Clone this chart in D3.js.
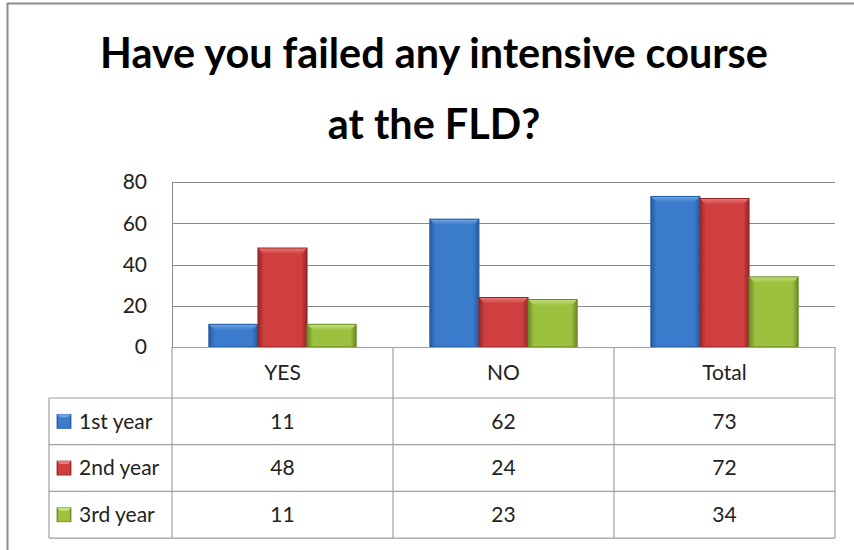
<!DOCTYPE html>
<html>
<head>
<meta charset="utf-8">
<script src="https://cdn.jsdelivr.net/npm/d3@7"></script>
<style>
  body { margin: 0; background: #fff; }
  svg { display: block; font-family: Lato, "Open Sans", sans-serif; }
</style>
</head>
<body>
<svg width="854" height="550"></svg>
<script>
const categories = ['YES', 'NO', 'Total'];
const seriesNames = ['1st year', '2nd year', '3rd year'];
const firstYear = [11, 62, 73];
const secondYear = [48, 24, 72];
const thirdYear = [11, 23, 34];
const yTicks = [0, 20, 40, 60, 80];
const titleLines = ['Have you failed any intensive course', 'at the FLD?'];

const series = [firstYear, secondYear, thirdYear];
const palette = [
  { base: '#3b7bcb', light: '#6fa6e6', dark: '#245a9e' },
  { base: '#cf3f3f', light: '#ea7a78', dark: '#962626' },
  { base: '#9bc13f', light: '#c6e27c', dark: '#6a8a25' }
];

const svg = d3.select('svg');
const plot = { left: 172, right: 835, top: 182, bottom: 347 };
const table = { left: 49, headerBottom: 398, rowH: 46.7 };
const fs = 21;

// outer frame
svg.append('path')
  .attr('d', 'M7.5,552 L7.5,3.5 L858,3.5')
  .attr('fill', 'none')
  .attr('stroke', '#8c8c8c')
  .attr('stroke-width', 2);

// gradients
const defs = svg.append('defs');
palette.forEach((c, i) => {
  const g = defs.append('linearGradient').attr('id', `body-${i}`)
    .attr('x1', 0).attr('x2', 1).attr('y1', 0).attr('y2', 0);
  g.append('stop').attr('offset', '0%').attr('stop-color', c.dark);
  g.append('stop').attr('offset', '12%').attr('stop-color', c.base);
  g.append('stop').attr('offset', '88%').attr('stop-color', c.base);
  g.append('stop').attr('offset', '100%').attr('stop-color', c.dark);
  const t = defs.append('linearGradient').attr('id', `top-${i}`)
    .attr('x1', 0).attr('x2', 0).attr('y1', 0).attr('y2', 1);
  t.append('stop').attr('offset', '0%').attr('stop-color', c.light);
  t.append('stop').attr('offset', '100%').attr('stop-color', c.base);
});

// title
const title = svg.append('g').attr('font-weight', 'bold').attr('fill', '#000');
const titleBase = [68, 139];
titleLines.forEach((line, i) => {
  title.append('text')
    .attr('x', 434)
    .attr('y', titleBase[i])
    .attr('text-anchor', 'middle')
    .attr('font-size', 36)
    .text(line);
});
const w0 = title.select('text').node().getComputedTextLength();
title.selectAll('text').attr('font-size', 36 * 668 / w0);

// scales
const x = d3.scaleBand().domain(categories).range([plot.left, plot.right]);
const inner = d3.scaleBand().domain(d3.range(3)).range([0, x.bandwidth()])
  .paddingOuter(0.75).paddingInner(0);
const y = d3.scaleLinear().domain([0, 80]).range([plot.bottom, plot.top]);

// gridlines
svg.append('g')
  .selectAll('line')
  .data(yTicks)
  .join('line')
  .attr('x1', plot.left).attr('x2', plot.right)
  .attr('y1', d => Math.round(y(d)) + 0.5).attr('y2', d => Math.round(y(d)) + 0.5)
  .attr('stroke', '#8a8a8a');
svg.append('line')
  .attr('x1', plot.left + 0.5).attr('x2', plot.left + 0.5)
  .attr('y1', plot.top).attr('y2', plot.bottom)
  .attr('stroke', '#8a8a8a');

// y labels
svg.append('g')
  .selectAll('text')
  .data(yTicks)
  .join('text')
  .attr('x', 147)
  .attr('y', d => y(d))
  .attr('dy', '0.35em')
  .attr('text-anchor', 'end')
  .attr('font-size', fs)
  .attr('fill', '#222')
  .text(d => d);

// bars
const bevel = 6;
series.forEach((vals, si) => {
  const g = svg.append('g');
  vals.forEach((v, ci) => {
    const x0 = x(categories[ci]) + inner(si);
    const bw = inner.bandwidth();
    const y0 = y(v);
    const h = plot.bottom - y0;
    g.append('rect')
      .attr('x', x0).attr('y', y0).attr('width', bw).attr('height', h)
      .attr('fill', `url(#body-${si})`);
    g.append('path')
      .attr('d', `M${x0},${y0} L${x0 + bw},${y0} L${x0 + bw - bevel},${y0 + bevel} L${x0 + bevel},${y0 + bevel} Z`)
      .attr('fill', `url(#top-${si})`);
    g.append('rect')
      .attr('x', x0).attr('y', y0).attr('width', bw).attr('height', h)
      .attr('fill', 'none')
      .attr('stroke', palette[si].dark).attr('stroke-width', 1);
  });
});

// data table
const tBottom = table.headerBottom + table.rowH * 3;
const grid = svg.append('g').attr('stroke', '#a0a0a0').attr('stroke-width', 1.2).attr('fill', 'none');
grid.append('line').attr('x1', plot.left).attr('x2', plot.right).attr('y1', plot.bottom + 0.5).attr('y2', plot.bottom + 0.5);
d3.range(4).forEach(r => {
  const yy = table.headerBottom + r * table.rowH;
  grid.append('line').attr('x1', table.left).attr('x2', plot.right).attr('y1', yy).attr('y2', yy);
});
grid.append('line').attr('x1', table.left).attr('x2', table.left).attr('y1', table.headerBottom).attr('y2', tBottom);
[plot.left, x('NO'), x('Total'), plot.right].forEach(xx => {
  grid.append('line').attr('x1', xx).attr('x2', xx).attr('y1', plot.bottom).attr('y2', tBottom);
});

svg.append('g')
  .selectAll('text')
  .data(categories)
  .join('text')
  .attr('x', d => x(d) + x.bandwidth() / 2)
  .attr('y', (plot.bottom + table.headerBottom) / 2)
  .attr('dy', '0.35em')
  .attr('text-anchor', 'middle')
  .attr('font-size', fs)
  .attr('fill', '#222')
  .text(d => d);

series.forEach((vals, si) => {
  const cy = table.headerBottom + table.rowH * (si + 0.5);
  const row = svg.append('g');
  const kx = 57, ks = 14;
  row.append('rect')
    .attr('x', kx).attr('y', cy - ks / 2).attr('width', ks).attr('height', ks)
    .attr('fill', `url(#body-${si})`).attr('stroke', palette[si].dark).attr('stroke-width', 0.8);
  row.append('path')
    .attr('d', `M${kx},${cy - ks / 2} L${kx + ks},${cy - ks / 2} L${kx + ks - 3},${cy - ks / 2 + 3} L${kx + 3},${cy - ks / 2 + 3} Z`)
    .attr('fill', palette[si].light);
  row.append('text')
    .attr('x', 79).attr('y', cy).attr('dy', '0.35em')
    .attr('font-size', fs).attr('fill', '#222')
    .text(seriesNames[si]);
  row.selectAll('text.val')
    .data(vals)
    .join('text')
    .attr('class', 'val')
    .attr('x', (d, i) => x(categories[i]) + x.bandwidth() / 2)
    .attr('y', cy).attr('dy', '0.35em')
    .attr('text-anchor', 'middle')
    .attr('font-size', fs).attr('fill', '#222')
    .text(d => d);
});
</script>
</body>
</html>
